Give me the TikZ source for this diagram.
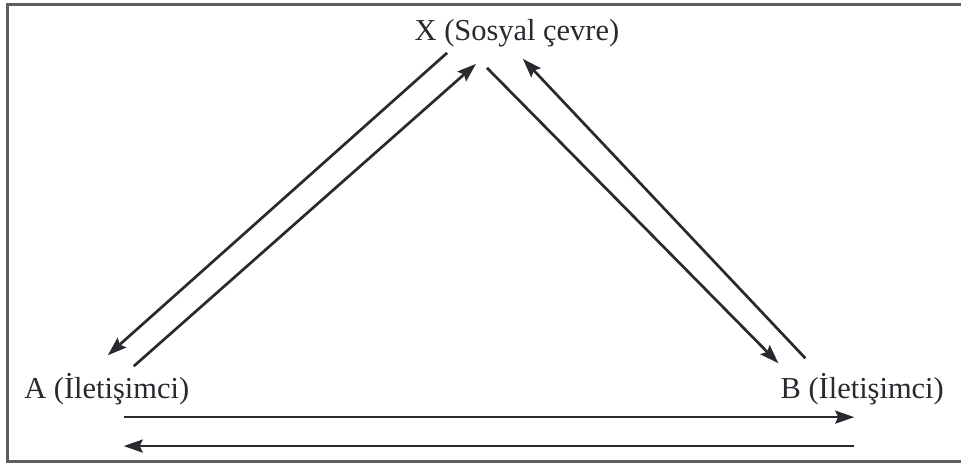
\documentclass[tikz,border=0pt]{standalone}
\usepackage{fontspec}
\setmainfont{Liberation Serif}
\usetikzlibrary{arrows.meta}
\definecolor{ink}{RGB}{40,42,48}
\definecolor{frame}{RGB}{95,95,98}

\begin{document}
\begin{tikzpicture}[x=1pt, y=1pt, line width=2.7pt, ink,
    lbl/.style={anchor=base, inner sep=0pt, font=\fontsize{30.5}{36}\selectfont},
    arr/.style={-{Stealth[length=19pt,width=13pt,inset=3pt]}}]
    \fill[white] (-1,-1) rectangle (962,463);
    \useasboundingbox (0,0) rectangle (961,462);
    % frame (open on the right)
    \draw[frame, line width=3pt] (962,458) -- (7,458) -- (7,1) -- (962,1);
    % labels
    \node[lbl] (X) at (517,422) {X (Sosyal çevre)};
    \node[lbl] (A) at (106,64) {A (İletişimci)};
    \node[lbl] (B) at (863,64) {B (İletişimci)};
    % arrow ends
    \coordinate (XA) at (447,410);
    \coordinate (AX) at (107,107);
    \coordinate (AY) at (133,96);
    \coordinate (XY) at (476,399);
    \coordinate (XB) at (487,395);
    \coordinate (BX) at (779,99);
    \coordinate (BY) at (806,104);
    \coordinate (YB) at (523,404);
    \coordinate (A1) at (123,45);
    \coordinate (B1) at (855,45);
    \coordinate (B2) at (855,16);
    \coordinate (A2) at (123,16);
    \draw[arr] (XA) -- (AX);
    \draw[arr] (AY) -- (XY);
    \draw[arr] (XB) -- (BX);
    \draw[arr] (BY) -- (YB);
    \draw[arr] (A1) -- (B1);
    \draw[arr] (B2) -- (A2);
\end{tikzpicture}
\end{document}
